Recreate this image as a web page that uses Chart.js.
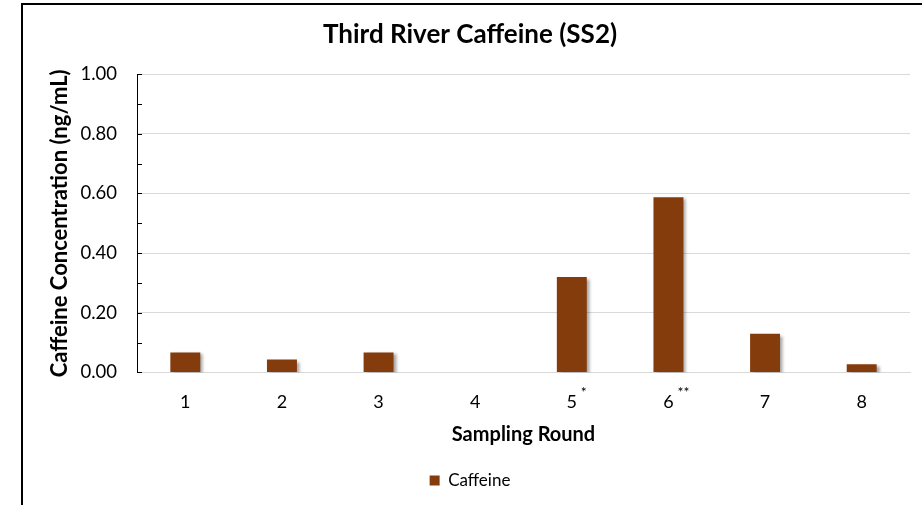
<!DOCTYPE html>
<html>
<head>
<meta charset="utf-8">
<script src="https://cdn.jsdelivr.net/npm/chart.js@4"></script>
<style>
  html, body { margin: 0; padding: 0; background: #fff; }
  #wrap { position: relative; width: 922px; height: 505px; }
</style>
</head>
<body>
<div id="wrap"><canvas id="chart" width="922" height="505"></canvas></div>
<script>
const rounds = ['1', '2', '3', '4', '5', '6', '7', '8'];
const roundNotes = ['', '', '', '', '*', '**', '', ''];
const caffeine = [0.067, 0.043, 0.067, 0, 0.32, 0.587, 0.13, 0.027];
const yTicks = [0, 0.1, 0.2, 0.3, 0.4, 0.5, 0.6, 0.7, 0.8, 0.9, 1.0];

const FONT = 'Lato, "Open Sans", sans-serif';
const BAR = '#843C0C';

// white page, frame line on top and left like the pasted Excel chart
const framePlugin = {
  id: 'frame',
  beforeDraw(chart) {
    const { ctx, width, height } = chart;
    ctx.save();
    ctx.fillStyle = '#fff';
    ctx.fillRect(0, 0, width, height);
    ctx.strokeStyle = '#000';
    ctx.lineWidth = 2;
    ctx.beginPath();
    ctx.moveTo(22, height);
    ctx.lineTo(22, 4);
    ctx.lineTo(width, 4);
    ctx.stroke();
    ctx.restore();
  }
};

// soft shadow behind bars
const shadowPlugin = {
  id: 'barShadow',
  beforeDatasetDraw(chart) {
    const ctx = chart.ctx;
    ctx.save();
    ctx.shadowColor = 'rgba(0,0,0,0.35)';
    ctx.shadowOffsetX = 3;
    ctx.shadowOffsetY = 2;
    ctx.shadowBlur = 3;
  },
  afterDatasetDraw(chart) {
    chart.ctx.restore();
  }
};

// inside tick marks on the value axis + asterisk notes on round labels
const marksPlugin = {
  id: 'marks',
  afterDraw(chart) {
    const { ctx } = chart;
    const y = chart.scales.y;
    const x = chart.scales.x;
    ctx.save();
    ctx.strokeStyle = '#000';
    ctx.lineWidth = 1;
    yTicks.forEach(v => {
      const py = Math.round(y.getPixelForValue(v)) + 0.5;
      ctx.beginPath();
      ctx.moveTo(y.right, py);
      ctx.lineTo(y.right + 5, py);
      ctx.stroke();
    });
    ctx.fillStyle = '#000';
    ctx.font = '14px ' + FONT;
    ctx.textAlign = 'left';
    ctx.textBaseline = 'middle';
    roundNotes.forEach((n, i) => {
      if (!n) return;
      ctx.fillText(n, x.getPixelForValue(i) + 9, x.top + 20);
    });
    ctx.restore();
  }
};

new Chart(document.getElementById('chart'), {
  type: 'bar',
  data: {
    labels: rounds,
    datasets: [{
      label: 'Caffeine',
      data: caffeine,
      backgroundColor: BAR,
      borderWidth: 0,
      categoryPercentage: 1,
      barPercentage: 0.31
    }]
  },
  plugins: [framePlugin, shadowPlugin, marksPlugin],
  options: {
    responsive: false,
    animation: false,
    layout: { padding: { left: 30, right: 12, top: 4, bottom: 6 } },
    plugins: {
      title: {
        display: true,
        text: 'Third River Caffeine (SS2)',
        color: '#000',
        font: { family: FONT, size: 26, weight: 'bold' },
        padding: { top: 15, bottom: 24 }
      },
      legend: {
        position: 'bottom',
        labels: {
          color: '#000',
          font: { family: FONT, size: 17 },
          boxWidth: 10,
          boxHeight: 10,
          padding: 7
        }
      },
      tooltip: { enabled: false }
    },
    scales: {
      x: {
        grid: { display: false },
        border: { color: '#d9d9d9', width: 1 },
        ticks: { color: '#000', font: { family: FONT, size: 18 }, padding: 11 },
        title: {
          display: true,
          text: 'Sampling Round',
          color: '#000',
          font: { family: FONT, size: 20, weight: 'bold' },
          padding: { top: -1, bottom: 18 }
        }
      },
      y: {
        min: 0,
        max: 1,
        afterBuildTicks(scale) {
          scale.ticks = yTicks.map(v => ({ value: v }));
        },
        afterFit(scale) {
          scale.width = 107;
        },
        grid: {
          drawTicks: false,
          color: ctx => (Math.round(ctx.tick.value * 10) % 2 === 0 ? '#d9d9d9' : 'rgba(0,0,0,0)')
        },
        border: { color: '#000', width: 1 },
        ticks: {
          color: '#000',
          font: { family: FONT, size: 18.5 },
          padding: 20,
          autoSkip: false,
          callback: v => (Math.round(v * 10) % 2 === 0 ? v.toFixed(2) : '')
        },
        title: {
          display: true,
          text: 'Caffeine Concentration (ng/mL)',
          color: '#000',
          font: { family: FONT, size: 22, weight: 'bold' },
          padding: { top: 17, bottom: 0 }
        }
      }
    }
  }
});
</script>
</body>
</html>
